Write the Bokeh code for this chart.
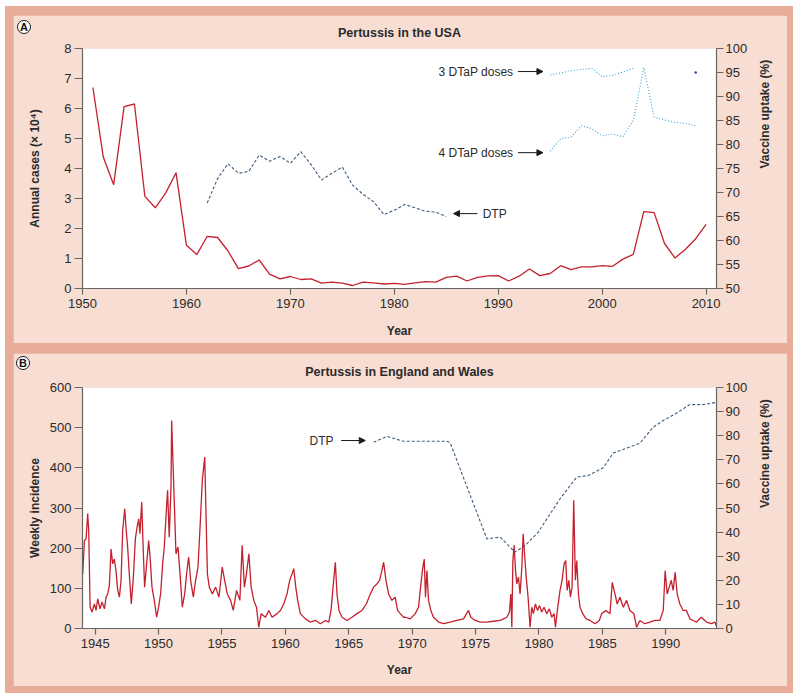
import math
from bokeh.plotting import figure
from bokeh.models import Range1d, LinearAxis, FixedTicker, Label, Arrow, NormalHead, Div
from bokeh.layouts import column
from bokeh.embed import file_html
from bokeh.resources import INLINE

FONT = "Liberation Sans"
BORDER = "#E8AD98"
PANEL = "#F7DDD2"
RED = "#C4202E"
DTP_COL = "#3F5D7D"
DTAP_COL = "#3A9FD6"
AX_COL = "#666666"
TXT = "#2b2b2b"

# ---------------- Panel A : USA ----------------
us_years = list(range(1951, 2011))
us_cases = [6.70, 4.38, 3.46, 6.06, 6.15, 3.07, 2.69, 3.18, 3.86, 1.44,
            1.13, 1.74, 1.70, 1.25, 0.66, 0.75, 0.95, 0.48, 0.32, 0.40,
            0.30, 0.32, 0.18, 0.21, 0.18, 0.10, 0.21, 0.19, 0.15, 0.17,
            0.14, 0.19, 0.23, 0.21, 0.37, 0.41, 0.25, 0.37, 0.42, 0.43,
            0.25, 0.41, 0.65, 0.43, 0.50, 0.76, 0.63, 0.72, 0.72, 0.76,
            0.74, 0.98, 1.14, 2.56, 2.53, 1.50, 1.02, 1.30, 1.66, 2.14]

us_dtp_years = list(range(1962, 1986))
us_dtp = [67.8, 72.9, 76.0, 74.0, 74.4, 77.8, 76.5, 77.5, 76.1, 78.5,
          75.8, 72.6, 74.0, 75.3, 71.5, 69.6, 68.1, 65.4, 66.3, 67.5,
          66.8, 66.1, 65.9, 65.0]

us_dtap3_years = list(range(1995, 2004))
us_dtap3 = [94.5, 94.9, 95.4, 95.6, 95.9, 94.1, 94.4, 95.1, 95.9]
us_dtap3_2009_year = [2009]
us_dtap3_2009 = [95.0]

us_dtap4_years = list(range(1995, 2010))
us_dtap4 = [78.6, 81.2, 81.5, 83.9, 83.3, 81.8, 82.2, 81.6, 85.0, 96.0,
            85.7, 85.1, 84.6, 84.4, 83.9]

# ---------------- Panel B : England and Wales ----------------
ew_year = [
    1944.02, 1944.15, 1944.28, 1944.41, 1944.49, 1944.60, 1944.75, 1944.94, 1945.07, 1945.20,
    1945.38, 1945.54, 1945.73, 1945.86, 1945.99, 1946.12, 1946.25, 1946.38, 1946.51, 1946.64,
    1946.78, 1946.91, 1947.04, 1947.17, 1947.33, 1947.43, 1947.56, 1947.69, 1947.85, 1948.01,
    1948.17, 1948.30, 1948.43, 1948.53, 1948.67, 1948.80, 1948.90, 1949.06, 1949.22, 1949.35,
    1949.48, 1949.66, 1949.85, 1950.00, 1950.16, 1950.32, 1950.45, 1950.58, 1950.71, 1950.84,
    1950.98, 1951.03, 1951.14, 1951.27, 1951.37, 1951.53, 1951.69, 1951.87, 1952.06, 1952.21,
    1952.37, 1952.53, 1952.74, 1952.92, 1953.11, 1953.27, 1953.45, 1953.64, 1953.74, 1953.85,
    1954.00, 1954.24, 1954.50, 1954.76, 1955.02, 1955.21, 1955.42, 1955.68, 1955.89, 1956.15,
    1956.41, 1956.59, 1956.77, 1956.93, 1957.12, 1957.30, 1957.51, 1957.72, 1957.90, 1958.09,
    1958.43, 1958.69, 1958.95, 1959.35, 1959.61, 1959.87, 1960.13, 1960.34, 1960.53, 1960.66,
    1960.82, 1960.97, 1961.18, 1961.58, 1961.97, 1962.37, 1962.76, 1963.15, 1963.42, 1963.60,
    1963.76, 1963.94, 1964.07, 1964.23, 1964.47, 1964.86, 1965.25, 1965.65, 1966.04, 1966.38,
    1966.70, 1966.96, 1967.22, 1967.43, 1967.61, 1967.75, 1967.93, 1968.14, 1968.40, 1968.66,
    1968.85, 1969.06, 1969.32, 1969.45, 1969.85, 1970.24, 1970.50, 1970.69, 1970.84, 1970.95,
    1971.05, 1971.16, 1971.29, 1971.47, 1971.68, 1972.08, 1972.47, 1973.00, 1973.52, 1974.05,
    1974.44, 1974.62, 1974.97, 1975.36, 1975.88, 1976.41, 1976.94, 1977.20, 1977.46, 1977.67,
    1977.78, 1977.86, 1977.94, 1978.04, 1978.15, 1978.25, 1978.38, 1978.51, 1978.65, 1978.75,
    1978.86, 1978.99, 1979.14, 1979.30, 1979.43, 1979.56, 1979.72, 1979.88, 1980.04, 1980.22,
    1980.40, 1980.61, 1980.82, 1981.01, 1981.19, 1981.30, 1981.45, 1981.66, 1981.82, 1981.98,
    1982.11, 1982.22, 1982.35, 1982.48, 1982.61, 1982.74, 1982.87, 1982.98, 1983.11, 1983.24,
    1983.45, 1983.71, 1984.03, 1984.42, 1984.76, 1984.94, 1985.28, 1985.60, 1985.78, 1985.99,
    1986.17, 1986.38, 1986.65, 1986.91, 1987.17, 1987.49, 1987.70, 1987.96, 1988.35, 1988.75,
    1989.14, 1989.53, 1989.80, 1989.95, 1990.11, 1990.27, 1990.43, 1990.58, 1990.74, 1990.90,
    1991.11, 1991.37, 1991.63, 1991.90, 1992.16, 1992.42, 1992.81, 1993.21, 1993.60, 1993.86,
    1993.99]
ew_weekly = [
    136, 219, 223, 286, 244, 53, 41, 61, 45, 74,
    49, 66, 49, 78, 86, 107, 198, 161, 173, 144,
    95, 78, 120, 244, 298, 252, 203, 136, 61, 128,
    223, 252, 273, 236, 315, 186, 103, 161, 219, 169,
    103, 70, 28, 53, 86, 161, 203, 277, 344, 227,
    352, 518, 410, 286, 186, 203, 136, 53, 86, 136,
    178, 120, 78, 120, 153, 252, 369, 427, 286, 136,
    103, 86, 103, 78, 153, 120, 86, 70, 45, 95,
    70, 207, 103, 136, 186, 103, 70, 53, 3, 37,
    28, 45, 28, 37, 45, 61, 86, 120, 136, 149,
    103, 70, 37, 24, 16, 20, 12, 20, 16, 45,
    103, 165, 86, 45, 28, 20, 28, 37, 45, 61,
    86, 103, 111, 120, 144, 165, 120, 86, 70, 78,
    45, 37, 28, 28, 24, 37, 53, 111, 153, 173,
    78, 144, 70, 45, 28, 16, 12, 16, 20, 24,
    45, 28, 20, 16, 16, 18, 20, 24, 28, 41,
    86, 3, 169, 207, 144, 111, 128, 86, 153, 236,
    186, 128, 78, 3, 53, 37, 61, 45, 57, 41,
    53, 37, 49, 28, 37, 3, 45, 95, 120, 161,
    169, 95, 120, 78, 103, 319, 120, 169, 86, 53,
    37, 24, 20, 12, 20, 37, 45, 37, 115, 86,
    61, 78, 53, 70, 45, 37, 3, 20, 12, 16,
    20, 20, 45, 144, 86, 103, 120, 95, 140, 86,
    61, 45, 45, 24, 20, 16, 28, 16, 12, 16,
    7]

ew_dtp_year = [1966.96, 1968.0, 1969.3, 1972.73, 1973.0, 1975.89, 1976.94, 1978.1,
               1978.9, 1979.94, 1981.66, 1982.97, 1983.89, 1985.07, 1985.86, 1987.96,
               1989.0, 1989.8, 1990.83, 1991.88, 1992.9, 1993.99]
ew_dtp = [77.3, 79.7, 77.7, 77.7, 77.0, 37.2, 37.9, 31.7,
          34.4, 40.0, 53.8, 62.8, 63.5, 66.7, 72.8, 76.9,
          83.5, 86.3, 89.3, 92.9, 92.9, 93.8]

# annotations (data coordinates)
ann_a = [("3 DTaP doses", 1991.45, 95.2, 1991.9, 1994.3),
         ("4 DTaP doses", 1991.45, 78.3, 1991.9, 1994.3)]
ann_a_dtp = ("DTP", 1988.5, 65.6, 1988.0, 1985.7)
ann_b_dtp = ("DTP", 1963.8, 78.0, 1964.4, 1966.3)
panel_tags = [("A", 12, 14), ("B", 11, 350)]


def style_axis(ax, ticks, label):
    ax.ticker = FixedTicker(ticks=ticks)
    ax.axis_label = label
    ax.axis_label_text_font = FONT
    ax.axis_label_text_font_size = "12px"
    ax.axis_label_text_font_style = "bold"
    ax.axis_label_text_color = TXT
    ax.major_label_text_font = FONT
    ax.major_label_text_font_size = "13px"
    ax.major_label_text_color = TXT
    ax.axis_line_color = AX_COL
    ax.axis_line_width = 1.2
    ax.major_tick_line_color = AX_COL
    ax.major_tick_line_width = 1.2
    ax.major_tick_in = 0
    ax.minor_tick_line_color = None


def base_fig(height, x0, x1, y0, y1, title, top, bottom, right, standoff):
    p = figure(width=774, height=height, x_range=Range1d(x0, x1), y_range=Range1d(y0, y1),
               output_backend="svg", toolbar_location=None,
               min_border_left=69, min_border_right=right, min_border_top=top,
               min_border_bottom=bottom, background_fill_color="white",
               border_fill_color=PANEL, outline_line_color=None, title=title)
    p.xgrid.visible = False
    p.ygrid.visible = False
    p.title.align = "center"
    p.title.text_font = FONT
    p.title.text_font_size = "12.5px"
    p.title.text_font_style = "bold"
    p.title.text_color = TXT
    p.title.standoff = standoff
    return p


def tag_div(letter, left, top):
    return Div(text=letter, width=14, height=14, margin=0,
               styles={"position": "absolute", "left": f"{left}px", "top": f"{top}px",
                       "box-sizing": "border-box", "border": "1.3px solid #1a1a1a",
                       "border-radius": "50%", "background-color": "white",
                       "font-family": FONT, "font-weight": "bold", "font-size": "11px",
                       "line-height": "12px", "text-align": "center", "color": "#111111",
                       "overflow": "hidden"})


def arrow(p, x0, x1, y, rng):
    p.add_layout(Arrow(end=NormalHead(size=6, fill_color="#1a1a1a", line_color="#1a1a1a"),
                       x_start=x0, y_start=y, x_end=x1, y_end=y, y_range_name=rng,
                       line_color="#1a1a1a", line_width=1))


def text(p, s, x, y, rng, align):
    p.add_layout(Label(x=x, y=y, y_range_name=rng, text=s, text_font=FONT,
                       text_font_size="12px", text_align=align, text_baseline="middle",
                       text_color=TXT))


def right_axis(p, ticks):
    ax = LinearAxis(y_range_name="vax")
    style_axis(ax, ticks, "Vaccine uptake (%)")
    ax.major_tick_out = 7
    ax.major_label_standoff = 2
    ax.axis_label_standoff = 15
    ax.axis_label_orientation = math.pi / 2
    p.add_layout(ax, "right")
    return ax


# ---- Panel A figure
pa = base_fig(328, 1950, 2011, 0, 8, "Pertussis in the USA", 33, 55, 71, 17)
pa.extra_y_ranges = {"vax": Range1d(50, 100)}
style_axis(pa.xaxis[0], list(range(1950, 2011, 10)), "Year")
style_axis(pa.yaxis[0], list(range(0, 9)), "Annual cases (× 10⁴)")
right_axis(pa, list(range(50, 101, 5)))
pa.xaxis[0].major_tick_out = 6
pa.xaxis[0].major_label_standoff = 4
pa.xaxis[0].axis_label_standoff = 13
pa.yaxis[0].major_tick_out = 8
pa.yaxis[0].major_label_standoff = 3
pa.yaxis[0].axis_label_standoff = 19

pa.line(us_years, us_cases, line_color=RED, line_width=1.3)
pa.line(us_dtp_years, us_dtp, y_range_name="vax", line_color=DTP_COL, line_width=1.1,
        line_dash="3 2")
pa.line(us_dtap3_years, us_dtap3, y_range_name="vax", line_color=DTAP_COL, line_width=1.1,
        line_dash="1 2")
pa.line(us_dtap4_years, us_dtap4, y_range_name="vax", line_color=DTAP_COL, line_width=1.1,
        line_dash="1 2")
pa.scatter(us_dtap3_2009_year, us_dtap3_2009, y_range_name="vax", size=2.5,
           fill_color="#2E4E8A", line_color=None)
for s, tx, ty, a0, a1 in ann_a:
    text(pa, s, tx, ty, "vax", "right")
    arrow(pa, a0, a1, ty, "vax")
s, tx, ty, a0, a1 = ann_a_dtp
text(pa, s, tx, ty, "vax", "left")
arrow(pa, a0, a1, ty, "vax")

# ---- Panel B figure
pb = base_fig(333, 1944, 1994, 0, 600, "Pertussis in England and Wales", 34, 58, 70, 17)
pb.extra_y_ranges = {"vax": Range1d(0, 100)}
style_axis(pb.xaxis[0], list(range(1945, 1991, 5)), "Year")
style_axis(pb.yaxis[0], list(range(0, 601, 100)), "Weekly incidence")
right_axis(pb, list(range(0, 101, 10)))
pb.xaxis[0].major_tick_out = 6
pb.xaxis[0].major_label_standoff = 4
pb.xaxis[0].axis_label_standoff = 12
pb.yaxis[0].major_tick_out = 8
pb.yaxis[0].major_label_standoff = 3
pb.yaxis[0].axis_label_standoff = 5

pb.line(ew_year, ew_weekly, line_color=RED, line_width=1.3)
pb.line(ew_dtp_year, ew_dtp, y_range_name="vax", line_color=DTP_COL, line_width=1.1,
        line_dash="3 2")
s, tx, ty, a0, a1 = ann_b_dtp
text(pb, s, tx, ty, "vax", "right")
arrow(pb, a0, a1, ty, "vax")

tags = [tag_div(l, x, y) for l, x, y in panel_tags]

layout = column(pa, pb, *tags, spacing=10,
                styles={"background-color": BORDER, "margin": "6px 0px 0px 5px",
                        "padding": "9px 6px 7px 8px", "position": "relative"})

open("out.html", "w").write(file_html(layout, INLINE))
